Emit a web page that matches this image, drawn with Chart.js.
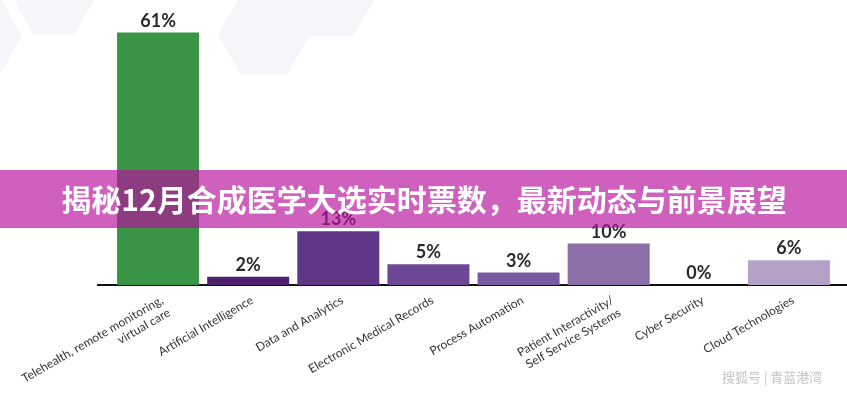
<!DOCTYPE html>
<html>
<head>
<meta charset="utf-8">
<script src="https://cdn.jsdelivr.net/npm/chart.js@4.4.1/dist/chart.umd.min.js"></script>
<style>
  html, body { margin: 0; padding: 0; background: #ffffff; }
  #wrap { width: 847px; height: 400px; position: relative; }
</style>
</head>
<body>
<div id="wrap"><canvas id="chart" width="847" height="400"></canvas></div>
<script>
// Chart data
const categories = [
    ['Telehealth, remote monitoring,', 'virtual care'],
    'Artificial Intelligence',
    'Data and Analytics',
    'Electronic Medical Records',
    'Process Automation',
    ['Patient Interactivity/', 'Self Service Systems'],
    'Cyber Security',
    'Cloud Technologies'
];
const values = [61, 2, 13, 5, 3, 10, 0, 6];
const barColors = ['#3a9446', '#4d2070', '#5f3688', '#6c4795', '#7a5a9f', '#8b6fa9', '#9a86b6', '#b3a1c8'];
const titleText = '揭秘12月合成医学大选实时票数，最新动态与前景展望';
const watermarkText = '搜狐号 | 青蓝港湾';

// faint honeycomb in the background
const hexes = [
    { x: 54, y: 0, r: 40 },
    { x: 264, y: 35, r: 46 },
    { x: 332, y: 0, r: 42 },
    { x: -22, y: 36, r: 44 }
];

function hexPath(ctx, cx, cy, r) {
    ctx.beginPath();
    for (let i = 0; i < 6; i++) {
        const a = Math.PI / 3 * i;
        const px = cx + r * Math.cos(a);
        const py = cy + r * Math.sin(a);
        if (i === 0) ctx.moveTo(px, py); else ctx.lineTo(px, py);
    }
    ctx.closePath();
}

const decorPlugin = {
    id: 'decor',
    beforeDraw(chart) {
        const ctx = chart.ctx;
        ctx.save();
        ctx.fillStyle = '#ffffff';
        ctx.fillRect(0, 0, chart.width, chart.height);
        ctx.fillStyle = '#f6f5f9';
        hexes.forEach(h => { hexPath(ctx, h.x, h.y, h.r); ctx.fill(); });
        ctx.restore();
    },
    beforeDatasetsDraw(chart) {
        // baseline
        const ctx = chart.ctx;
        const y0 = chart.scales.y.getPixelForValue(0);
        ctx.save();
        ctx.strokeStyle = '#111111';
        ctx.lineWidth = 2;
        ctx.beginPath();
        ctx.moveTo(97, y0);
        ctx.lineTo(chart.width, y0);
        ctx.stroke();
        ctx.restore();
    },
    afterDatasetsDraw(chart) {
        // value labels on top of bars
        const ctx = chart.ctx;
        const meta = chart.getDatasetMeta(0);
        ctx.save();
        ctx.fillStyle = '#2b2b2b';
        ctx.font = 'bold 18px "Lato", "DejaVu Sans", sans-serif';
        ctx.textAlign = 'center';
        ctx.textBaseline = 'alphabetic';
        meta.data.forEach((bar, i) => {
            ctx.fillText(values[i] + '%', bar.x, bar.y - 6);
        });
        ctx.restore();
    },
    afterDraw(chart) {
        const ctx = chart.ctx;
        ctx.save();
        // pink banner with title
        ctx.fillStyle = 'rgba(184, 16, 157, 0.665)';
        ctx.fillRect(0, 170, chart.width, 58);
        ctx.fillStyle = '#ffffff';
        ctx.font = 'bold 30px "Noto Sans CJK SC", sans-serif';
        ctx.textAlign = 'center';
        ctx.textBaseline = 'middle';
        ctx.fillText(titleText, 424, 200);
        // watermark
        ctx.fillStyle = '#c4c4c4';
        ctx.font = '13px "Noto Sans CJK SC", sans-serif';
        ctx.textAlign = 'left';
        ctx.fillText(watermarkText, 722, 377);
        ctx.restore();
    }
};

const ctx = document.getElementById('chart');
new Chart(ctx, {
    type: 'bar',
    data: {
        labels: categories,
        datasets: [{
            data: values,
            backgroundColor: barColors,
            borderWidth: 0,
            barPercentage: 0.91,
            categoryPercentage: 1.0
        }]
    },
    options: {
        responsive: false,
        animation: false,
        devicePixelRatio: 1,
        layout: {
            padding: { left: 113, right: 13, top: 16, bottom: 0 }
        },
        plugins: {
            legend: { display: false },
            tooltip: { enabled: false }
        },
        scales: {
            x: {
                grid: { display: false, drawTicks: false },
                border: { display: false },
                ticks: {
                    autoSkip: false,
                    maxRotation: 30,
                    minRotation: 30,
                    padding: 8,
                    labelOffset: 4,
                    color: '#333333',
                    font: { family: 'Lato, "DejaVu Sans", sans-serif', size: 12 }
                },
                afterFit(scale) {
                    scale.height = 115;
                }
            },
            y: {
                display: false,
                min: 0,
                max: 65
            }
        }
    },
    plugins: [decorPlugin]
});
</script>
</body>
</html>
